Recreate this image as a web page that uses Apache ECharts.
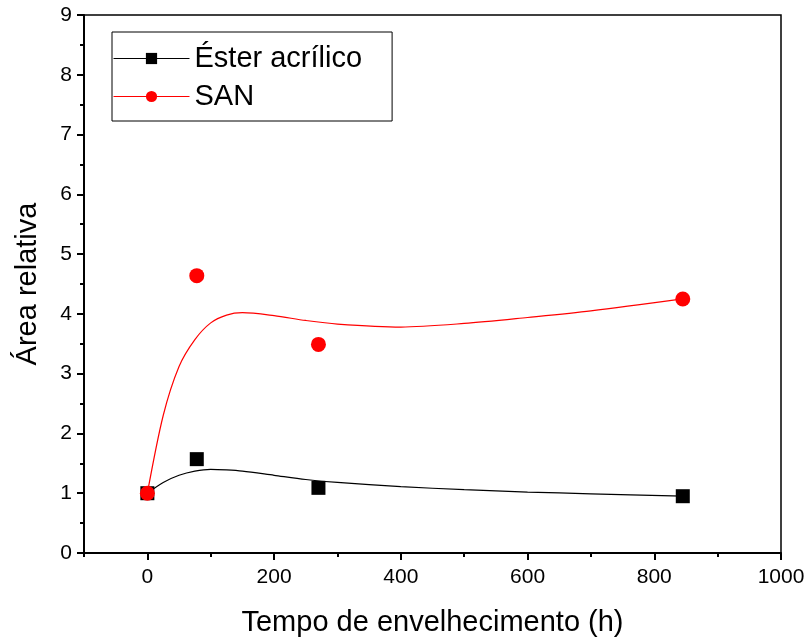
<!DOCTYPE html>
<html>
<head>
<meta charset="utf-8">
<script src="https://cdn.jsdelivr.net/npm/echarts@6/dist/echarts.min.js"></script>
<style>
  html, body { margin: 0; padding: 0; background: #fff; }
  #chart { width: 804px; height: 641px; }
</style>
</head>
<body>
<div id="chart"></div>
<script>
// measured points
var esterPts = [[0, 1], [78, 1.57], [270, 1.09], [845, 0.95]];
var sanPts = [[0, 1], [78, 4.64], [270, 3.49], [845, 4.25]];
// fitted curves
var esterFit = [[0, 1], [25, 1.18], [50, 1.3], [75, 1.37], [100, 1.4], [125, 1.39], [150, 1.37], [200, 1.3],
  [250, 1.23], [300, 1.18], [400, 1.11], [500, 1.06], [600, 1.02], [700, 0.99], [845, 0.95]];
var sanFit = [[0, 1], [25, 2.3], [50, 3.12], [75, 3.57], [100, 3.85], [125, 3.98], [150, 4.02], [200, 3.97],
  [250, 3.89], [300, 3.83], [400, 3.78], [500, 3.84], [600, 3.94], [700, 4.05], [845, 4.25]];
var names = ['Éster acrílico', 'SAN'];
var xMajor = [0, 200, 400, 600, 800, 1000];

var font = 'Liberation Sans, Arial, sans-serif';
var chart = echarts.init(document.getElementById('chart'), null, { renderer: 'canvas' });

var option = {
  backgroundColor: '#ffffff',
  animation: false,
  grid: {
    left: 84, right: 23, top: 15, bottom: 88,
    outerBoundsMode: 'none', containLabel: false,
    show: true, borderColor: '#000', borderWidth: 1.5
  },
  legend: {
    orient: 'vertical',
    left: 112, top: 32,
    padding: [12, 30, 10, 1],
    borderColor: '#000', borderWidth: 1,
    itemWidth: 76, itemHeight: 14, itemGap: 9,
    textStyle: { fontFamily: font, fontSize: 29, color: '#000' },
    data: [
      { name: names[0], lineStyle: { width: 1, color: '#000' } },
      { name: names[1], lineStyle: { width: 1, color: '#ff0000' } }
    ]
  },
  xAxis: [{
    type: 'value', min: -100, max: 1000, interval: 100,
    name: 'Tempo de envelhecimento (h)', nameLocation: 'middle', nameGap: 55,
    nameTextStyle: { fontFamily: font, fontSize: 29, color: '#000' },
    axisLine: { onZero: false, lineStyle: { color: '#000', width: 2 } },
    axisTick: { inside: false, length: 7, customValues: xMajor, lineStyle: { color: '#000', width: 2 } },
    axisLabel: {
      fontFamily: font, fontSize: 21, color: '#000', margin: 14, customValues: xMajor,
      formatter: function (v) { return String(v); }
    },
    splitLine: { show: false }
  }, {
    type: 'value', min: -100, max: 1000, interval: 100, position: 'bottom',
    axisLine: { show: false },
    axisTick: { inside: false, length: 4, lineStyle: { color: '#000', width: 2 } },
    axisLabel: { show: false },
    splitLine: { show: false }
  }],
  yAxis: {
    type: 'value', min: 0, max: 9, interval: 1,
    name: 'Área relativa', nameLocation: 'middle', nameGap: 42,
    nameTextStyle: { fontFamily: font, fontSize: 29, color: '#000' },
    axisLine: { onZero: false, lineStyle: { color: '#000', width: 2 } },
    axisTick: { inside: false, length: 7, lineStyle: { color: '#000', width: 2 } },
    minorTick: { show: true, splitNumber: 2, length: 4, lineStyle: { color: '#000', width: 2 } },
    axisLabel: { fontFamily: font, fontSize: 21, color: '#000', margin: 12 },
    splitLine: { show: false }
  },
  series: [{
    name: names[0], type: 'line', data: esterPts,
    symbol: 'rect', symbolSize: 14,
    itemStyle: { color: '#000' },
    lineStyle: { width: 0, color: '#000' },
    z: 5
  }, {
    name: names[1], type: 'line', data: sanPts,
    symbol: 'circle', symbolSize: 15,
    itemStyle: { color: '#ff0000' },
    lineStyle: { width: 0, color: '#ff0000' },
    z: 6
  }, {
    name: 'fit1', type: 'line', data: esterFit,
    smooth: 0.3, showSymbol: false, silent: true,
    lineStyle: { width: 1.2, color: '#000' }
  }, {
    name: 'fit2', type: 'line', data: sanFit,
    smooth: 0.3, showSymbol: false, silent: true,
    lineStyle: { width: 1.2, color: '#ff0000' }
  }]
};
chart.setOption(option);
</script>
</body>
</html>
